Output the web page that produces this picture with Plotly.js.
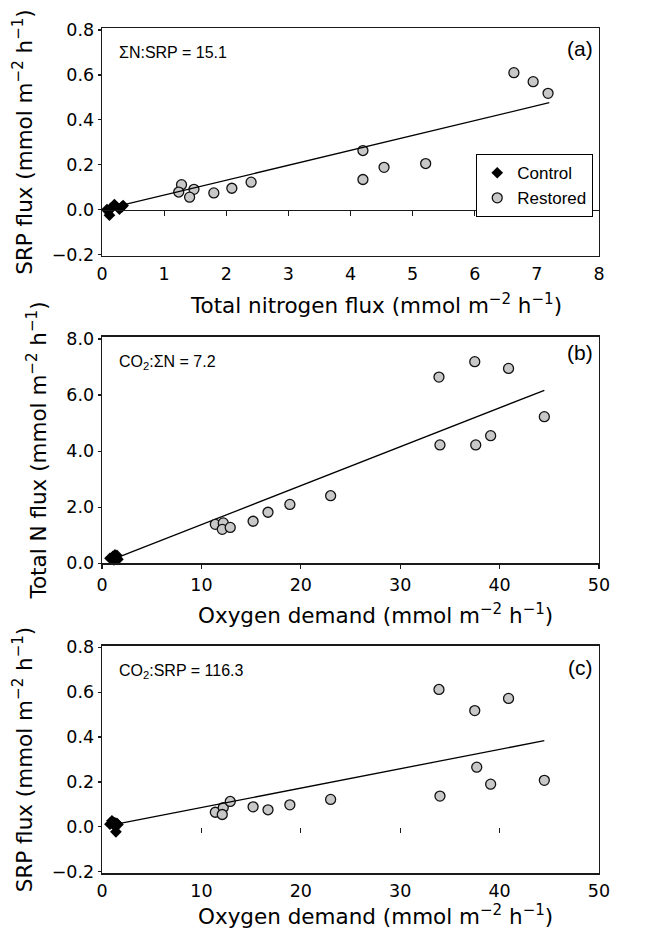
<!DOCTYPE html>
<html>
<head>
<meta charset="utf-8">
<script src="https://cdn.plot.ly/plotly-3.0.1.min.js"></script>
<style>
  html, body { margin: 0; padding: 0; background: #ffffff; }
  #chart { width: 651px; height: 933px; }
</style>
</head>
<body>
<div id="chart"></div>
<script>
// ---------- Panel (a): SRP flux vs total nitrogen flux ----------
const panelA_controlN   = [0.08, 0.10, 0.12, 0.15, 0.20, 0.28, 0.32, 0.34];
const panelA_controlSRP = [0.000, -0.008, -0.025, 0.008, 0.022, 0.002, 0.012, 0.018];
const panelA_restoredN   = [6.63, 6.94, 7.18, 4.20, 4.20, 4.54, 5.21, 2.40, 2.09, 1.80, 1.48, 1.28, 1.235, 1.41];
const panelA_restoredSRP = [0.610, 0.570, 0.518, 0.263, 0.134, 0.188, 0.205, 0.122, 0.095, 0.074, 0.090, 0.111, 0.078, 0.055];
const panelA_fitN   = [0.12, 7.20];
const panelA_fitSRP = [0.006, 0.476];

// ---------- Panel (b): total N flux vs oxygen demand ----------
const panelB_controlO2 = [0.8, 1.0, 1.1, 1.2, 1.3, 1.4, 1.5, 1.6];
const panelB_controlN  = [0.18, 0.15, 0.25, 0.12, 0.30, 0.20, 0.28, 0.14];
const panelB_restoredO2 = [33.9, 37.5, 40.9, 44.5, 34.0, 37.6, 39.1, 23.0, 18.9, 16.7, 15.2, 11.4, 12.2, 12.1, 12.9];
const panelB_restoredN  = [6.64, 7.19, 6.95, 5.23, 4.22, 4.22, 4.55, 2.41, 2.10, 1.82, 1.50, 1.39, 1.44, 1.21, 1.28];
const panelB_fitO2 = [1.2, 44.5];
const panelB_fitN  = [0.155, 6.17];

// ---------- Panel (c): SRP flux vs oxygen demand ----------
const panelC_controlO2  = [0.8, 1.0, 1.1, 1.2, 1.3, 1.4, 1.5, 1.6];
const panelC_controlSRP = [0.012, 0.027, 0.020, 0.008, 0.018, -0.022, 0.015, 0.010];
const panelC_restoredO2  = [33.9, 37.5, 40.9, 44.5, 34.0, 37.7, 39.1, 23.0, 18.9, 16.7, 15.2, 11.4, 12.2, 12.1, 12.9];
const panelC_restoredSRP = [0.612, 0.518, 0.572, 0.207, 0.137, 0.266, 0.190, 0.122, 0.098, 0.076, 0.089, 0.065, 0.086, 0.055, 0.113];
const panelC_fitO2  = [1.3, 44.5];
const panelC_fitSRP = [0.011, 0.384];

// ---------- Ticks and labels ----------
const xTicksN      = [0, 1, 2, 3, 4, 5, 6, 7, 8];
const xZeroTicksN  = [1, 2, 3, 4, 5, 6, 7];
const xTicksO2     = [0, 10, 20, 30, 40, 50];
const xZeroTicksO2 = [10, 20, 30, 40];
const yTicksSRP    = [-0.2, 0.0, 0.2, 0.4, 0.6, 0.8];
const yTicksN      = [0, 2, 4, 6, 8];
const seriesNames  = ['Control', 'Restored'];
const panelLabels  = ['(a)', '(b)', '(c)'];
const ratioLabels  = ['ΣN:SRP = 15.1', 'CO<sub>2</sub>:ΣN = 7.2', 'CO<sub>2</sub>:SRP = 116.3'];
const xTitles = ['Total nitrogen flux (mmol m<sup>−2</sup> h<sup>−1</sup>)',
                 'Oxygen demand (mmol m<sup>−2</sup> h<sup>−1</sup>)',
                 'Oxygen demand (mmol m<sup>−2</sup> h<sup>−1</sup>)'];
const yTitles = ['SRP flux (mmol m<sup>−2</sup> h<sup>−1</sup>)',
                 'Total N flux (mmol m<sup>−2</sup> h<sup>−1</sup>)',
                 'SRP flux (mmol m<sup>−2</sup> h<sup>−1</sup>)'];

// ---------- Styles ----------
const AX_FONT = 'DejaVu Sans, Verdana, sans-serif';
const TXT_FONT = 'Liberation Sans, Arial, Helvetica, sans-serif';
const LINE_COL = '#1a1a1a';
const controlMarker = {symbol: 'diamond', size: 9, color: '#000000', line: {width: 0}};
const restoredMarker = {symbol: 'circle', size: 10, color: '#c8c8c8', line: {color: '#111111', width: 1.3}};
const fitLine = {color: '#000000', width: 1.3};

function ctrl(x, y, xa, ya, show) {
  return {type: 'scatter', mode: 'markers', x: x, y: y, xaxis: xa, yaxis: ya,
          name: seriesNames[0], marker: controlMarker, showlegend: show, cliponaxis: false, legendrank: 1};
}
function rest(x, y, xa, ya, show) {
  return {type: 'scatter', mode: 'markers', x: x, y: y, xaxis: xa, yaxis: ya,
          name: seriesNames[1], marker: restoredMarker, showlegend: show, cliponaxis: false, legendrank: 2};
}
function fit(x, y, xa, ya) {
  return {type: 'scatter', mode: 'lines', x: x, y: y, xaxis: xa, yaxis: ya,
          line: fitLine, showlegend: false, hoverinfo: 'skip'};
}

const data = [
  fit(panelA_fitN, panelA_fitSRP, 'x4', 'y'),
  rest(panelA_restoredN, panelA_restoredSRP, 'x', 'y', true),
  ctrl(panelA_controlN, panelA_controlSRP, 'x', 'y', true),

  fit(panelB_fitO2, panelB_fitN, 'x2', 'y2'),
  rest(panelB_restoredO2, panelB_restoredN, 'x2', 'y2', false),
  ctrl(panelB_controlO2, panelB_controlN, 'x2', 'y2', false),

  fit(panelC_fitO2, panelC_fitSRP, 'x5', 'y3'),
  rest(panelC_restoredO2, panelC_restoredSRP, 'x3', 'y3', false),
  ctrl(panelC_controlO2, panelC_controlSRP, 'x3', 'y3', false)
];

const H = 933;
const domA = [1 - 256 / H, 1 - 28 / H];
const domB = [1 - 563.3 / H, 1 - 336.7 / H];
const domC = [1 - 873.3 / H, 1 - 645.7 / H];
const rangeA = [-0.207, 0.809];
const rangeB = [0, 8.08];
const rangeC = [-0.207, 0.807];
function zeroPos(dom, rng) { return dom[0] + (0 - rng[0]) / (rng[1] - rng[0]) * (dom[1] - dom[0]); }

function xBase(range, tickvals, anchor, ticks, standoff) {
  return {
    range: range, tickvals: tickvals, anchor: anchor, domain: [0, 1],
    ticks: ticks, ticklen: 4, tickwidth: 1.2, tickcolor: LINE_COL,
    ticklabelstandoff: standoff,
    showline: true, mirror: true, linecolor: LINE_COL, linewidth: 1.3,
    showgrid: false, zeroline: false, automargin: false,
    tickfont: {family: AX_FONT, size: 17.5, color: '#000'}
  };
}
function yBase(range, tickvals, anchor, dom, title) {
  return {
    range: range, tickvals: tickvals, anchor: anchor, domain: dom, tickformat: '.1f',
    ticks: 'outside', ticklen: 3, tickwidth: 1.2, tickcolor: LINE_COL,
    showline: true, mirror: true, linecolor: LINE_COL, linewidth: 1.3,
    showgrid: false, zeroline: false, automargin: false,
    tickfont: {family: AX_FONT, size: 17.5, color: '#000'},
    title: {text: title, font: {family: AX_FONT, size: 21.5, color: '#000'}, standoff: 13}
  };
}
function xZero(overlay, range, tickvals, pos, showline) {
  return {
    overlaying: overlay, anchor: 'free', position: pos, range: range, tickvals: tickvals,
    ticks: 'outside', ticklen: 5, tickwidth: 1.2, tickcolor: LINE_COL,
    showticklabels: false, showline: showline, linecolor: LINE_COL, linewidth: 1.3,
    showgrid: false, zeroline: false, automargin: false
  };
}

const annotations = [];
const labelY = [1 - 48 / H, 1 - 353 / H, 1 - 667 / H];
const ratioY = [1 - 52.5 / H, 1 - 362 / H, 1 - 671 / H];
const xTitleY = [1 - 304 / H, 1 - 614 / H, 1 - 915 / H];
for (let i = 0; i < 3; i++) {
  annotations.push({xref: 'paper', yref: 'paper', x: 0.992, y: labelY[i], xanchor: 'right', yanchor: 'middle',
    text: panelLabels[i], showarrow: false, font: {family: TXT_FONT, size: 21, color: '#000'}});
  annotations.push({xref: 'paper', yref: 'paper', x: 0.030, y: ratioY[i], xanchor: 'left', yanchor: 'middle',
    text: ratioLabels[i], showarrow: false, font: {family: TXT_FONT, size: 16, color: '#000'}});
  annotations.push({xref: 'paper', yref: 'paper', x: 0.551, y: xTitleY[i], xanchor: 'center', yanchor: 'middle',
    text: xTitles[i], showarrow: false, font: {family: AX_FONT, size: 21.5, color: '#000'}});
}

const layout = {
  width: 651, height: 933,
  margin: {l: 102, r: 52, t: 0, b: 0, pad: 0},
  paper_bgcolor: '#ffffff', plot_bgcolor: '#ffffff',
  font: {family: AX_FONT, color: '#000'},
  showlegend: true,
  legend: {x: 0.988, y: 1 - 154 / H, xanchor: 'right', yanchor: 'top',
           bgcolor: '#ffffff', bordercolor: '#000000', borderwidth: 1.2,
           font: {family: TXT_FONT, size: 17, color: '#000'},
           itemwidth: 30, tracegroupgap: 0, traceorder: 'normal'},
  xaxis:  xBase([0, 8], xTicksN, 'y', '', 2),
  yaxis:  yBase(rangeA, yTicksSRP, 'x', domA, yTitles[0]),
  xaxis2: xBase([0, 50], xTicksO2, 'y2', 'outside', 1),
  yaxis2: yBase(rangeB, yTicksN, 'x2', domB, yTitles[1]),
  xaxis3: xBase([0, 50], xTicksO2, 'y3', '', 1),
  yaxis3: yBase(rangeC, yTicksSRP, 'x3', domC, yTitles[2]),
  xaxis4: xZero('x', [0, 8], xZeroTicksN, zeroPos(domA, rangeA), true),
  xaxis5: xZero('x3', [0, 50], xZeroTicksO2, zeroPos(domC, rangeC), false),
  annotations: annotations
};

Plotly.newPlot('chart', data, layout, {staticPlot: true, displayModeBar: false});
</script>
</body>
</html>
